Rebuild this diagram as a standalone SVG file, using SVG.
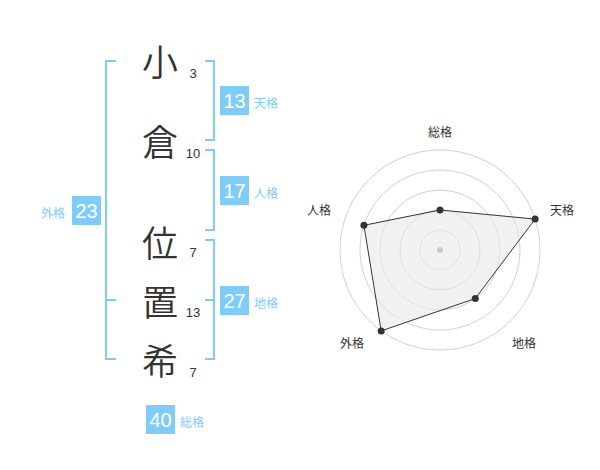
<svg xmlns="http://www.w3.org/2000/svg" width="600" height="470" viewBox="0 0 600 470">
<style>
.ch{font-family:"Noto Sans CJK JP","Noto Sans CJK SC",sans-serif;font-size:36px;font-weight:350;fill:#333;text-anchor:middle;dominant-baseline:central}
.st{font-family:"Liberation Sans",Arial,sans-serif;font-size:13px;fill:#333;text-anchor:middle}
.br{fill:none;stroke:#80ccf8;stroke-width:2}
.box{fill:#80ccf8}
.bn{font-family:"Liberation Sans",Arial,sans-serif;font-size:20px;fill:#fff;text-anchor:middle}
.bl{font-family:"Noto Sans CJK JP","Noto Sans CJK SC",sans-serif;font-size:12px;fill:#80ccf8}
.ring{fill:none;stroke:#d0d0d0;stroke-width:1}
.rl{font-family:"Noto Sans CJK JP","Noto Sans CJK SC",sans-serif;font-size:12px;fill:#333;text-anchor:middle;dominant-baseline:central}
.dot{fill:#333}
</style>
<g id="name">
<g id="c1"><text class="ch" x="160" y="60">小</text><text class="st" x="193" y="77.5">3</text></g>
<g id="c2"><text class="ch" x="160" y="140">倉</text><text class="st" x="193" y="157.5">10</text></g>
<g id="c3"><text class="ch" x="160" y="241">位</text><text class="st" x="193" y="256.5">7</text></g>
<g id="c4"><text class="ch" x="160" y="300">置</text><text class="st" x="193" y="317">13</text></g>
<g id="c5"><text class="ch" x="160" y="359">希</text><text class="st" x="193" y="377">7</text></g>
</g>
<g id="connectors">
<path class="br" d="M205,61 H214 V140 H205"/>
<path class="br" d="M205,150 H214 V230 H205"/>
<path class="br" d="M205,240 H214 V359 H205 M205,300 H214"/>
<path class="br" d="M116,61 H106 V359 H116 M106,300 H116"/>
</g>
<g id="tenkaku"><rect class="box" x="220" y="86" width="29" height="29"/><text class="bn" x="234.5" y="107.5">13</text><text class="bl" x="254" y="108">天格</text></g>
<g id="jinkaku"><rect class="box" x="220" y="176" width="29" height="29"/><text class="bn" x="234.5" y="197.5">17</text><text class="bl" x="254" y="198">人格</text></g>
<g id="chikaku"><rect class="box" x="220" y="286" width="29" height="29"/><text class="bn" x="234.5" y="307.5">27</text><text class="bl" x="254" y="308">地格</text></g>
<g id="gaikaku"><rect class="box" x="72" y="196" width="29" height="29"/><text class="bn" x="86.5" y="217.5">23</text><text class="bl" x="41" y="218">外格</text></g>
<g id="soukaku"><rect class="box" x="146" y="405" width="29" height="29"/><text class="bn" x="160.5" y="426.5">40</text><text class="bl" x="180" y="427">総格</text></g>
<g id="radar">
<circle class="ring" cx="440" cy="250" r="20"/>
<circle class="ring" cx="440" cy="250" r="40"/>
<circle class="ring" cx="440" cy="250" r="60"/>
<circle class="ring" cx="440" cy="250" r="80"/>
<circle class="ring" cx="440" cy="250" r="100"/>
<polygon points="440,210 535.1,219.1 475.3,298.5 381.2,330.9 363.9,225.3" fill="#e8e8e8" fill-opacity="0.6" stroke="#333" stroke-width="1"/>
<circle cx="440" cy="250" r="3" fill="#c8c8c8"/>
<circle class="dot" cx="440" cy="210" r="3.5"/>
<circle class="dot" cx="535.1" cy="219.1" r="3.5"/>
<circle class="dot" cx="475.3" cy="298.5" r="3.5"/>
<circle class="dot" cx="381.2" cy="330.9" r="3.5"/>
<circle class="dot" cx="363.9" cy="225.3" r="3.5"/>
<text class="rl" x="440" y="131">総格</text>
<text class="rl" x="562" y="209">天格</text>
<text class="rl" x="524" y="342">地格</text>
<text class="rl" x="352" y="342">外格</text>
<text class="rl" x="319" y="209">人格</text>
</g>
</svg>
